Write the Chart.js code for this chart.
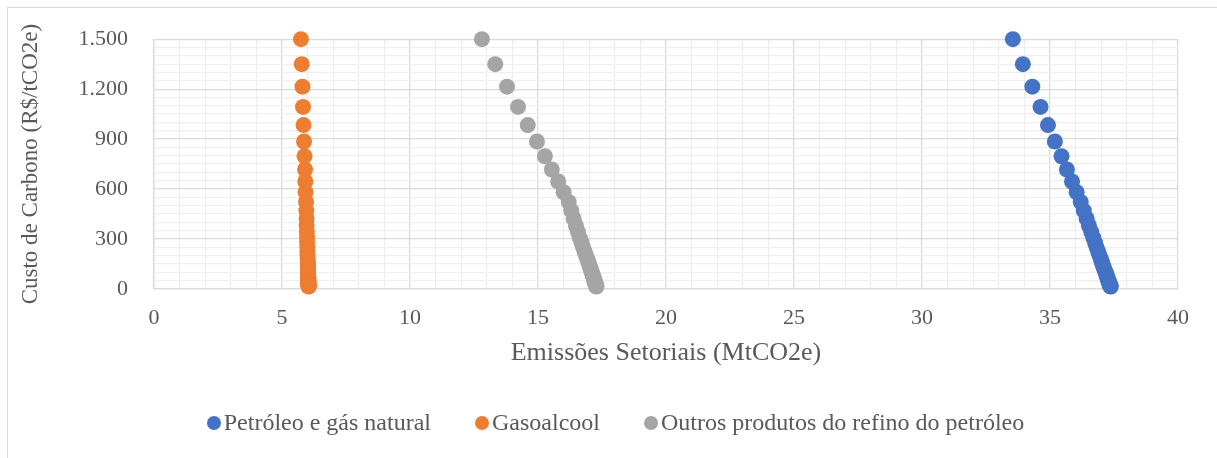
<!DOCTYPE html>
<html>
<head>
<meta charset="utf-8">
<script src="https://cdn.jsdelivr.net/npm/chart.js@4.4.0/dist/chart.umd.min.js"></script>
<style>
  body { margin: 0; background: #fff; overflow: hidden; }
  #wrap { position: relative; width: 1217px; height: 458px; overflow: hidden; }
  #frame { position: absolute; left: 7px; top: 7px; width: 1240px; height: 480px; border: 1px solid #d9d9d9; }
  canvas { position: absolute; left: 0; top: 0; }
  #legend { position: absolute; left: 7px; width: 1217px; top: 409px; display: flex; justify-content: center;
            font-family: 'Liberation Serif', 'Times New Roman', serif; font-size: 24px; color: #595959; }
  .item { display: flex; align-items: center; margin: 0 22px; white-space: nowrap; }
  .dot { width: 14px; height: 14px; border-radius: 50%; margin-right: 3px; }
</style>
</head>
<body>
<div id="wrap">
  <div id="frame"></div>
  <canvas id="myChart" width="1217" height="458"></canvas>
  <div id="legend"></div>
</div>
<script>
// custo de carbono (R$/tCO2e)
const carbonPrice = [1500, 1350, 1215, 1093.5, 984.2, 885.7, 797.2, 717.4, 645.7, 581.1,
  523.0, 470.7, 423.6, 381.3, 343.1, 308.8, 278.0, 250.2, 225.1, 202.6,
  182.4, 164.1, 147.7, 132.9, 119.6, 107.7, 96.9, 87.2, 78.5, 70.6,
  63.6, 57.2, 51.5, 46.4, 41.7, 37.5, 33.8, 30.4, 27.4, 24.6,
  22.2, 20.0, 18.0, 16.2, 14.5];

// emissoes setoriais (MtCO2e) para cada preco
const petroleoGas = [33.55, 33.94, 34.31, 34.63, 34.92, 35.19, 35.45, 35.66, 35.86, 36.04,
  36.20, 36.32, 36.43, 36.52, 36.61, 36.69, 36.76, 36.82, 36.88, 36.93,
  36.98, 37.02, 37.06, 37.09, 37.12, 37.15, 37.18, 37.20, 37.22, 37.24,
  37.25, 37.27, 37.28, 37.29, 37.30, 37.31, 37.32, 37.33, 37.34, 37.34,
  37.35, 37.35, 37.36, 37.36, 37.37];
const gasoalcool = [5.74, 5.77, 5.80, 5.82, 5.84, 5.86, 5.88, 5.90, 5.91, 5.92,
  5.94, 5.95, 5.96, 5.96, 5.97, 5.98, 5.98, 5.99, 5.99, 6.00,
  6.00, 6.01, 6.01, 6.01, 6.02, 6.02, 6.02, 6.02, 6.02, 6.03,
  6.03, 6.03, 6.03, 6.03, 6.03, 6.03, 6.03, 6.03, 6.03, 6.04,
  6.04, 6.04, 6.04, 6.04, 6.04];
const outrosRefino = [12.81, 13.33, 13.79, 14.22, 14.60, 14.96, 15.27, 15.54, 15.79, 16.00,
  16.20, 16.30, 16.39, 16.48, 16.56, 16.63, 16.70, 16.76, 16.82, 16.87,
  16.92, 16.96, 17.00, 17.03, 17.06, 17.08, 17.11, 17.13, 17.15, 17.16,
  17.18, 17.19, 17.20, 17.21, 17.22, 17.23, 17.24, 17.25, 17.25, 17.26,
  17.26, 17.27, 17.27, 17.28, 17.28];

const seriesNames = ['Petróleo e gás natural', 'Gasoalcool', 'Outros produtos do refino do petróleo'];
const seriesColors = ['#4472C4', '#ED7D31', '#A5A5A5'];
const seriesValues = [petroleoGas, gasoalcool, outrosRefino];

const xTickStep = 5;
const yTickStep = 300;

const fontFamily = "'Liberation Serif', 'Times New Roman', serif";
const textColor = '#595959';
const majorGrid = '#d9d9d9';
const minorGrid = '#efefef';

function fmtThousands(v) {
  return String(v).replace(/\B(?=(\d{3})+(?!\d))/g, '.');
}

const datasets = seriesValues.map(function (vals, i) {
  return {
    label: seriesNames[i],
    data: vals.map(function (x, j) { return { x: x, y: carbonPrice[j] }; }),
    backgroundColor: seriesColors[i],
    borderColor: seriesColors[i],
    borderWidth: 0,
    pointRadius: 8,
    clip: false
  };
});

var ctx = document.getElementById('myChart').getContext('2d');
var myChart = new Chart(ctx, {
  type: 'scatter',
  data: { datasets: datasets },
  options: {
    responsive: false,
    animation: false,
    layout: { padding: { left: 10, right: 39, top: 38, bottom: 79 } },
    plugins: {
      legend: { display: false },
      tooltip: { enabled: false }
    },
    scales: {
      x: {
        type: 'linear',
        min: 0,
        max: 40,
        afterFit: function (scale) { scale.height = 90; },
        ticks: {
          stepSize: 1,
          autoSkip: false,
          maxRotation: 0,
          padding: 16,
          color: textColor,
          font: { family: fontFamily, size: 22 },
          callback: function (v) { return v % xTickStep === 0 ? v : ''; }
        },
        grid: {
          drawTicks: false,
          lineWidth: 1.3,
          color: function (c) { return c.tick && c.tick.value % xTickStep === 0 ? majorGrid : minorGrid; }
        },
        border: { color: majorGrid, width: 1.3 },
        title: {
          display: true,
          text: 'Emissões Setoriais (MtCO2e)',
          color: textColor,
          font: { family: fontFamily, size: 26 },
          padding: { top: 0, bottom: 10 }
        }
      },
      y: {
        min: 0,
        max: 1500,
        afterFit: function (scale) { scale.width = 144; },
        ticks: {
          stepSize: 50,
          autoSkip: false,
          padding: 26,
          color: textColor,
          font: { family: fontFamily, size: 22 },
          callback: function (v) { return v % yTickStep === 0 ? fmtThousands(v) : ''; }
        },
        grid: {
          drawTicks: false,
          lineWidth: 1.3,
          color: function (c) { return c.tick && c.tick.value % yTickStep === 0 ? majorGrid : minorGrid; }
        },
        border: { color: majorGrid, width: 1.3 },
        title: {
          display: true,
          text: 'Custo de Carbono (R$/tCO2e)',
          color: textColor,
          font: { family: fontFamily, size: 23 },
          padding: { top: 7, bottom: 0 }
        }
      }
    }
  }
});

// legenda em html
var legend = document.getElementById('legend');
seriesNames.forEach(function (name, i) {
  var item = document.createElement('div');
  item.className = 'item';
  var dot = document.createElement('span');
  dot.className = 'dot';
  dot.style.background = seriesColors[i];
  var txt = document.createElement('span');
  txt.textContent = name;
  item.appendChild(dot);
  item.appendChild(txt);
  legend.appendChild(item);
});
</script>
</body>
</html>
